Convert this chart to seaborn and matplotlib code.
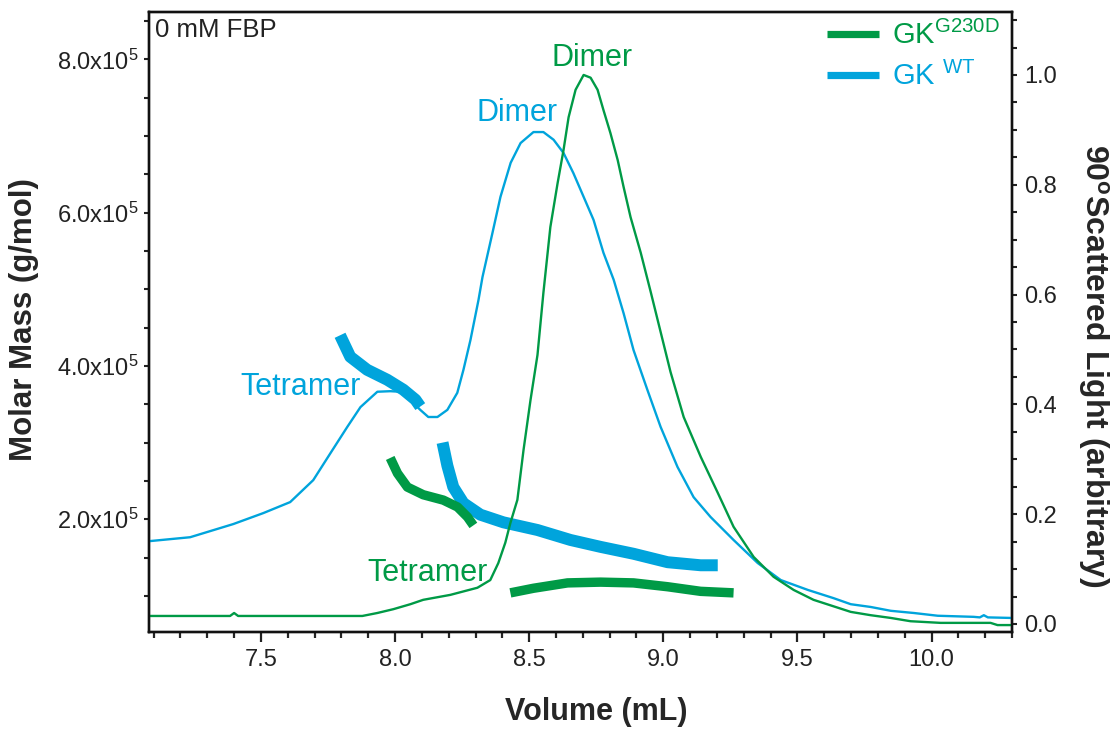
import matplotlib
matplotlib.use("Agg")
import matplotlib.pyplot as plt
import seaborn as sns
import pandas as pd
from matplotlib.lines import Line2D
from matplotlib.ticker import MultipleLocator, FixedLocator, FuncFormatter
from matplotlib import font_manager

# ---------------- data ----------------
# 90 degree scattered light, GK WT (thin blue, right axis)
wt_ls_volume = [7.087, 7.236, 7.397, 7.509, 7.609, 7.695, 7.759, 7.822, 7.871, 7.934,
                7.982, 8.020, 8.057, 8.094, 8.124, 8.158, 8.195, 8.232, 8.255, 8.281,
                8.311, 8.326, 8.363, 8.393, 8.431, 8.468, 8.516, 8.553, 8.591, 8.628,
                8.665, 8.703, 8.740, 8.777, 8.815, 8.852, 8.889, 8.941, 8.990, 9.053,
                9.113, 9.176, 9.262, 9.352, 9.438, 9.539, 9.635, 9.699, 9.773, 9.848,
                9.934, 10.023, 10.157, 10.180, 10.195, 10.210, 10.296]
wt_ls = [0.151, 0.158, 0.182, 0.202, 0.222, 0.262, 0.311, 0.359, 0.395, 0.423,
         0.424, 0.423, 0.408, 0.390, 0.377, 0.377, 0.390, 0.421, 0.463, 0.517,
         0.590, 0.632, 0.712, 0.778, 0.840, 0.876, 0.896, 0.896, 0.882, 0.858,
         0.821, 0.778, 0.736, 0.676, 0.627, 0.566, 0.499, 0.426, 0.359, 0.286,
         0.231, 0.195, 0.153, 0.111, 0.080, 0.062, 0.047, 0.036, 0.031, 0.024,
         0.020, 0.015, 0.013, 0.012, 0.016, 0.012, 0.011]

# 90 degree scattered light, GK G230D (thin green, right axis)
mut_ls_volume = [7.087, 7.385, 7.400, 7.415, 7.878, 7.934, 7.994, 8.057, 8.105, 8.206,
                 8.307, 8.355, 8.385, 8.411, 8.430, 8.456, 8.479, 8.505, 8.531, 8.553,
                 8.579, 8.606, 8.628, 8.647, 8.673, 8.703, 8.729, 8.755, 8.777, 8.803,
                 8.830, 8.852, 8.878, 8.916, 8.953, 8.990, 9.027, 9.076, 9.140, 9.203,
                 9.262, 9.337, 9.411, 9.486, 9.560, 9.699, 9.773, 9.848, 9.922, 10.034,
                 10.220, 10.246, 10.296]
mut_ls = [0.0146, 0.0146, 0.020, 0.0146, 0.0146, 0.020, 0.027, 0.036, 0.044, 0.053,
          0.066, 0.080, 0.111, 0.148, 0.184, 0.226, 0.317, 0.408, 0.490, 0.603,
          0.723, 0.803, 0.863, 0.923, 0.973, 1.000, 0.995, 0.973, 0.936, 0.894,
          0.845, 0.796, 0.741, 0.676, 0.605, 0.532, 0.459, 0.377, 0.304, 0.239,
          0.177, 0.122, 0.086, 0.062, 0.044, 0.022, 0.016, 0.011, 0.005, 0.002,
          0.002, -0.002, -0.002]

# molar mass, GK WT (thick blue, left axis)
wt_mm_tetramer_volume = [7.795, 7.833, 7.896, 7.971, 8.031, 8.076, 8.094]
wt_mm_tetramer = [4.40e5, 4.12e5, 3.95e5, 3.82e5, 3.69e5, 3.56e5, 3.47e5]
wt_mm_dimer_volume = [8.177, 8.195, 8.217, 8.255, 8.318, 8.404, 8.531, 8.654, 8.766,
                      8.889, 9.016, 9.139, 9.203]
wt_mm_dimer = [3.00e5, 2.70e5, 2.42e5, 2.21e5, 2.06e5, 1.96e5, 1.86e5, 1.73e5, 1.64e5,
               1.55e5, 1.44e5, 1.40e5, 1.40e5]

# molar mass, GK G230D (thick green, left axis)
mut_mm_tetramer_volume = [7.982, 8.009, 8.046, 8.105, 8.180, 8.233, 8.270, 8.292]
mut_mm_tetramer = [2.80e5, 2.60e5, 2.42e5, 2.32e5, 2.25e5, 2.16e5, 2.03e5, 1.92e5]
mut_mm_dimer_volume = [8.430, 8.516, 8.643, 8.766, 8.889, 9.016, 9.139, 9.262]
mut_mm_dimer = [1.04e5, 1.10e5, 1.17e5, 1.18e5, 1.17e5, 1.12e5, 1.06e5, 1.04e5]

x_ticks = [7.5, 8.0, 8.5, 9.0, 9.5, 10.0]
left_ticks = [2e5, 4e5, 6e5, 8e5]
right_ticks = [0.0, 0.2, 0.4, 0.6, 0.8, 1.0]

BLUE = "#00A4DC"
GREEN = "#009A46"

# ---------------- style ----------------
sns.set_style("ticks")
names = {f.name for f in font_manager.fontManager.ttflist}
BASE = "Liberation Sans" if "Liberation Sans" in names else "DejaVu Sans"
NARROW = "Liberation Sans Narrow" in names
COND = "Liberation Sans Narrow" if NARROW else BASE
plt.rcParams["font.family"] = [COND, "DejaVu Sans"]
plt.rcParams["mathtext.fontset"] = "custom"
plt.rcParams["mathtext.rm"] = BASE
plt.rcParams["mathtext.bf"] = BASE + ":bold"
plt.rcParams["mathtext.it"] = BASE + ":italic"

tick_fs = 19.5 if NARROW else 17
title_fs = 26.5 if NARROW else 22

fig = plt.figure(figsize=(11.17, 7.34), dpi=100)
ax = fig.add_axes([0.1337, 0.1386, 0.7723, 0.8447])
ax2 = ax.twinx()

# thick molar-mass traces (left axis)
for vol, mm, col, lw in [
    (wt_mm_tetramer_volume, wt_mm_tetramer, BLUE, 8.6),
    (wt_mm_dimer_volume, wt_mm_dimer, BLUE, 8.6),
    (mut_mm_tetramer_volume, mut_mm_tetramer, GREEN, 6.8),
    (mut_mm_dimer_volume, mut_mm_dimer, GREEN, 6.8),
]:
    df = pd.DataFrame({"vol": vol, "mm": mm})
    sns.lineplot(data=df, x="vol", y="mm", ax=ax, color=col, linewidth=lw,
                 sort=False, estimator=None, legend=False, solid_capstyle="butt")

# thin light-scattering traces (right axis)
for vol, ls, col in [(wt_ls_volume, wt_ls, BLUE), (mut_ls_volume, mut_ls, GREEN)]:
    df = pd.DataFrame({"vol": vol, "ls": ls})
    sns.lineplot(data=df, x="vol", y="ls", ax=ax2, color=col, linewidth=1.7,
                 sort=False, estimator=None, legend=False)

ax.set_xlim(7.084, 10.30)
ax.set_ylim(0.526e5, 8.614e5)
ax2.set_ylim(-0.0151, 1.1142)

# ticks
ax.xaxis.set_major_locator(FixedLocator(x_ticks))
ax.xaxis.set_minor_locator(MultipleLocator(0.1))
ax.xaxis.set_major_formatter(FuncFormatter(lambda v, p: f"{v:.1f}"))
ax.yaxis.set_major_locator(FixedLocator(left_ticks))
ax.yaxis.set_minor_locator(MultipleLocator(0.5e5))


def sci_fmt(v, p):
    m = v / 1e5
    return r"$\mathregular{%.1fx10^5}$" % m


ax.yaxis.set_major_formatter(FuncFormatter(sci_fmt))
ax2.yaxis.set_major_locator(FixedLocator(right_ticks))
ax2.yaxis.set_minor_locator(MultipleLocator(0.05))
ax2.yaxis.set_major_formatter(FuncFormatter(lambda v, p: f"{v:.1f}"))

ax.tick_params(axis="x", which="major", direction="out", length=7.2, width=1.6,
               labelsize=tick_fs, pad=5, colors="#222222")
ax.tick_params(axis="x", which="minor", direction="out", length=4.3, width=1.6)
ax.tick_params(axis="y", which="both", direction="out", length=3.8, width=1.5,
               labelsize=tick_fs, pad=4, colors="#222222")
ax2.tick_params(axis="y", which="both", direction="out", length=3.8, width=1.5,
                labelsize=tick_fs, pad=5, colors="#222222")

for a in (ax, ax2):
    for s in a.spines.values():
        s.set_linewidth(1.7)
        s.set_color("#111111")
        s.set_visible(True)
    a.grid(False)

# axis titles
ax.set_xlabel("Volume (mL)", fontsize=title_fs, fontweight="bold", family=[COND, "DejaVu Sans"])
ax.xaxis.set_label_coords(0.518, -0.105)
ax.set_ylabel("Molar Mass (g/mol)", fontsize=title_fs + 0.5, fontweight="bold",
              family=[COND, "DejaVu Sans"])
ax.yaxis.set_label_coords(-0.128, 0.505)
ax2.set_ylabel(r"90$^{\mathregular{o}}$Scattered Light (arbitrary)", fontsize=title_fs + 1,
               fontweight="bold", family=[COND, "DejaVu Sans"], rotation=270, va="bottom")
ax2.yaxis.set_label_coords(1.074, 0.43)

# annotations
ann_fs = 22
ax2.text(8.736, 1.030, "Dimer", color=GREEN, fontsize=ann_fs, family=BASE, ha="center", va="center")
ax2.text(8.453, 0.930, "Dimer", color=BLUE, fontsize=ann_fs, family=BASE, ha="center", va="center")
ax2.text(7.647, 0.432, "Tetramer", color=BLUE, fontsize=ann_fs, family=BASE, ha="center", va="center")
ax2.text(8.121, 0.093, "Tetramer", color=GREEN, fontsize=ann_fs, family=BASE, ha="center", va="center")
ax.text(0.0066, 0.9715, "0 mM FBP", transform=ax.transAxes, fontsize=18.5, family=BASE,
        ha="left", va="center", color="#222222")

# legend
handles = [Line2D([], [], color=GREEN, linewidth=5.2, solid_capstyle="butt"),
           Line2D([], [], color=BLUE, linewidth=5.2, solid_capstyle="butt")]
labels = [r"GK$^{\mathregular{G230D}}$", r"GK $^{\mathregular{WT}}$"]
leg = ax2.legend(handles, labels, loc="upper right", bbox_to_anchor=(1.0, 1.005),
                 frameon=False, prop={"family": BASE, "size": 21}, handlelength=1.8,
                 handletextpad=0.45, labelspacing=0.4, borderaxespad=0.0)
for t, c in zip(leg.get_texts(), [GREEN, BLUE]):
    t.set_color(c)

fig.savefig("out.png", dpi=100)
